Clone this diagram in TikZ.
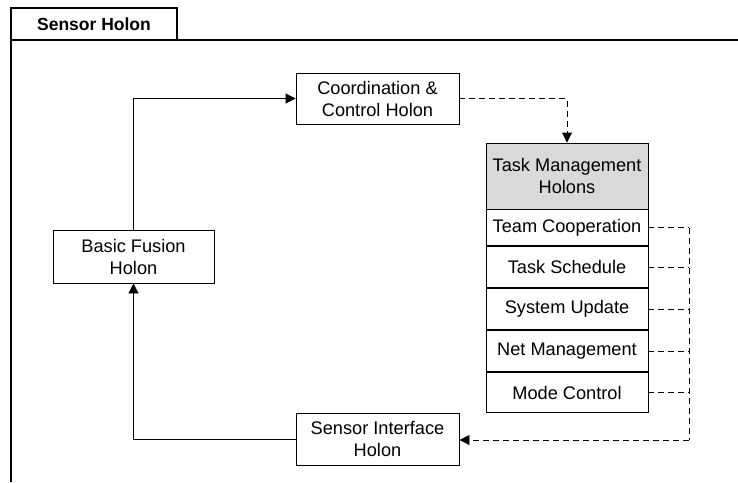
\documentclass[tikz,border=0pt]{standalone}
\usepackage{fontspec}
\setmainfont{Liberation Sans}
\usetikzlibrary{arrows.meta,positioning}
\begin{document}
\begin{tikzpicture}[x=1pt,y=-1pt,
  box/.style={draw,line width=0.9pt,align=center,font=\fontsize{18.2}{22}\selectfont,inner sep=0pt},
  row/.style={box,minimum width=162pt},
  link/.style={line width=0.9pt},
  dlink/.style={line width=0.9pt,dash pattern=on 6pt off 4pt},
  tip/.style={-{Triangle[length=10pt,width=10pt]}}]
\useasboundingbox (0,0) rectangle (738,482);
% outer container with its title tab
\draw[line width=1.1pt] (11,482) -- (11,40) -- (738,40);
\node[draw,line width=1.1pt,minimum width=166pt,minimum height=32pt,inner sep=0pt,
  font=\fontsize{17.5}{20}\selectfont\bfseries] (tab) at (94,24) {Sensor Holon};
% holons
\node[box,minimum width=163pt,minimum height=51pt] (coord) at (377.5,98.5) {Coordination \&\\Control Holon};
\node[box,minimum width=161pt,minimum height=53pt] (fusion) at (133.5,256.5) {Basic Fusion\\Holon};
\node[box,minimum width=163pt,minimum height=52pt] (iface) at (377.5,439) {Sensor Interface\\Holon};
% task management stack
\node[row,minimum height=66pt,fill={rgb,255:red,217;green,217;blue,217}] (head) at (567,176) {Task Management\\Holons};
\node[row,minimum height=36pt,anchor=north] (r1) at (head.south) {Team Cooperation};
\node[row,minimum height=41pt,anchor=north] (r2) at (r1.south) {Task Schedule};
\node[row,minimum height=41pt,anchor=north] (r3) at (r2.south) {System Update};
\node[row,minimum height=41pt,anchor=north] (r4) at (r3.south) {Net Management};
\node[row,minimum height=40pt,anchor=north] (r5) at (r4.south) {Mode Control};
% solid flow
\draw[link,tip] (fusion.north) |- (coord.west);
\draw[link,tip] (iface.west) -| (fusion.south);
% dashed flow
\draw[dlink,tip] (coord.east) -| (head.north);
\coordinate (bus) at (689,0);
\foreach \r in {r1,r2,r3,r4,r5}
  \draw[dlink] (\r.east) -- (bus |- \r.east);
\coordinate (busend) at (689,440);
\draw[dlink] (bus |- r1.east) -- (busend);
\draw[dlink,tip] (busend) -- (iface.east |- busend);
\end{tikzpicture}
\end{document}
